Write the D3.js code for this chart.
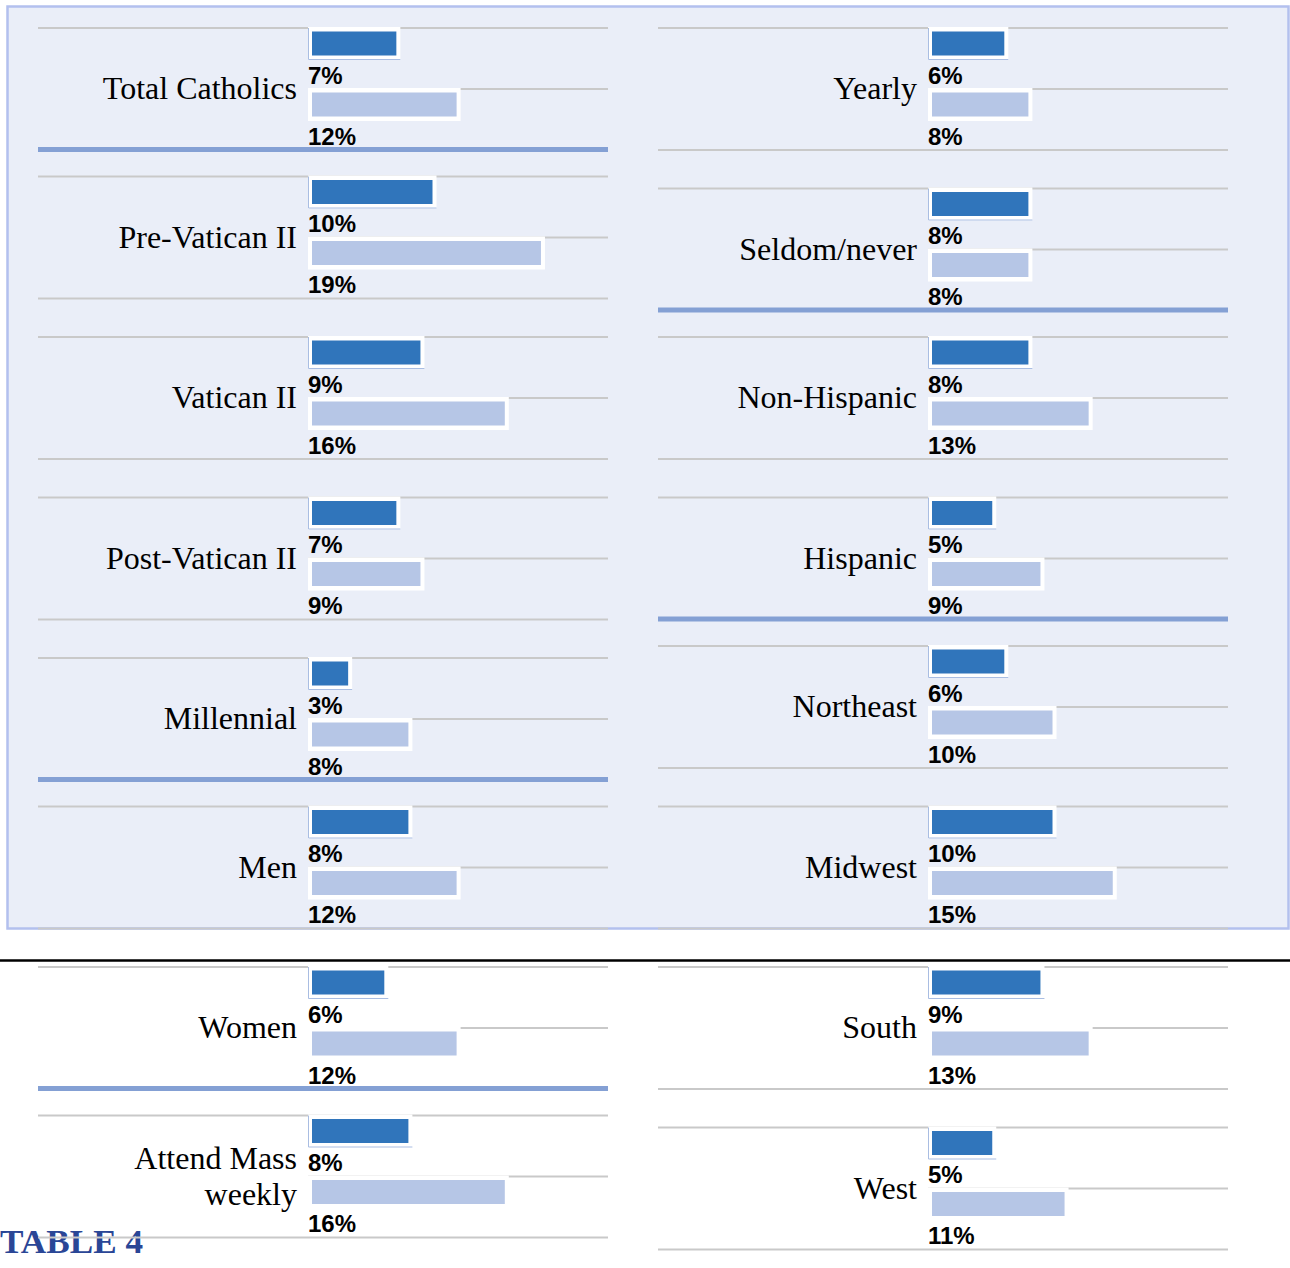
<!DOCTYPE html>
<meta charset="utf-8">
<style>
body { margin: 0; background: #fff; }
.rule { stroke: #c9c9c9; stroke-width: 2px; }
.rule.thick { stroke: #84a0d4; stroke-width: 5px; }
.cat { font-family: "Liberation Serif", "Times New Roman", serif; font-size: 32px; fill: #000; }
.pct { font-family: "Liberation Sans", Arial, sans-serif; font-size: 24px; font-weight: bold; fill: #000; }
</style>
<svg width="1290" height="1268"></svg>
<script src="https://d3js.org/d3.v7.min.js"></script>
<script>

// left column
var leftLabels = ["Total Catholics", "Pre-Vatican II", "Vatican II", "Post-Vatican II", "Millennial", "Men", "Women", "Attend Mass|weekly"];
var leftDark   = [7, 10, 9, 7, 3, 8, 6, 8];
var leftLight  = [12, 19, 16, 9, 8, 12, 12, 16];
var leftBreak  = [true, false, false, false, true, false, true, false];

// right column
var rightLabels = ["Yearly", "Seldom/never", "Non-Hispanic", "Hispanic", "Northeast", "Midwest", "South", "West"];
var rightDark   = [6, 8, 8, 5, 6, 10, 9, 5];
var rightLight  = [8, 8, 13, 9, 10, 15, 13, 11];
var rightBreak  = [false, true, false, true, false, false, false, false];

var svg = d3.select("svg");

var x = d3.scaleLinear().domain([0, 20]).range([0, 241]);

// shaded panel
svg.append("rect")
    .attr("x", 7.5).attr("y", 6.5)
    .attr("width", 1281).attr("height", 922)
    .attr("fill", "#eaeef8")
    .attr("stroke", "#b3c0ee")
    .attr("stroke-width", 2.5);

svg.append("line")
    .attr("x1", 0).attr("x2", 1290)
    .attr("y1", 960.5).attr("y2", 960.5)
    .attr("stroke", "#000").attr("stroke-width", 2.5);

svg.append("text")
    .attr("x", 0).attr("y", 1253)
    .attr("textLength", 143).attr("lengthAdjust", "spacingAndGlyphs")
    .style("font-family", "'Liberation Serif', serif")
    .style("font-size", "33px").style("font-weight", "bold")
    .style("fill", "#2a4696")
    .text("TABLE 4");

function column(labels, dark, light, brk, left) {
  var x0 = left + 274,    // bar start
      lx = left + 259,    // label right edge
      right = left + 570;
  var g = svg.append("g");
  var top = 28;
  labels.forEach(function(lab, i) {
    var rows = [{ r: top, v: dark[i], c: "#3075bb", edge: true },
                { r: top + 61, v: light[i], c: "#b6c6e6", edge: false }];

    // rules: top and bottom full width, middle one only across the bar area
    g.append("line").attr("class", "rule")
        .attr("x1", left).attr("x2", right)
        .attr("y1", top).attr("y2", top);
    g.append("line").attr("class", "rule")
        .attr("x1", x0 - 4).attr("x2", right)
        .attr("y1", top + 61).attr("y2", top + 61);
    var bottom = top + 122;
    g.append("line").attr("class", brk[i] ? "rule thick" : "rule")
        .attr("x1", left).attr("x2", right)
        .attr("y1", brk[i] ? bottom - 0.5 : bottom).attr("y2", brk[i] ? bottom - 0.5 : bottom);

    rows.forEach(function(d) {
      g.append("rect")
          .attr("x", x0 - 4).attr("y", d.r - 1)
          .attr("width", x(d.v) + 8).attr("height", 33)
          .attr("fill", "#fff");
      if (d.edge) {
        g.append("path")
            .attr("d", "M" + (x0 - 3.5) + "," + (d.r) + "V" + (d.r + 31.5) + "H" + (x0 + x(d.v) + 4))
            .attr("fill", "none").attr("stroke", "#a9bde2").attr("stroke-width", 1);
      }
      g.append("rect")
          .attr("x", x0).attr("y", d.r + 3.5)
          .attr("width", x(d.v)).attr("height", 24)
          .attr("fill", d.c);
      g.append("text").attr("class", "pct")
          .attr("x", x0 - 4).attr("y", d.r + 55.5)
          .text(d.v + "%");
    });

    var lines = lab.split("|");
    var t = g.append("text").attr("class", "cat")
        .attr("text-anchor", "end");
    lines.forEach(function(s, k) {
      t.append("tspan")
          .attr("x", lx)
          .attr("y", top + 71.3 + (k - (lines.length - 1) / 2) * 36)
          .text(s);
    });

    top += brk[i] ? 148.5 : 160.5;
  });
}

column(leftLabels, leftDark, leftLight, leftBreak, 38);
column(rightLabels, rightDark, rightLight, rightBreak, 658);

</script>
